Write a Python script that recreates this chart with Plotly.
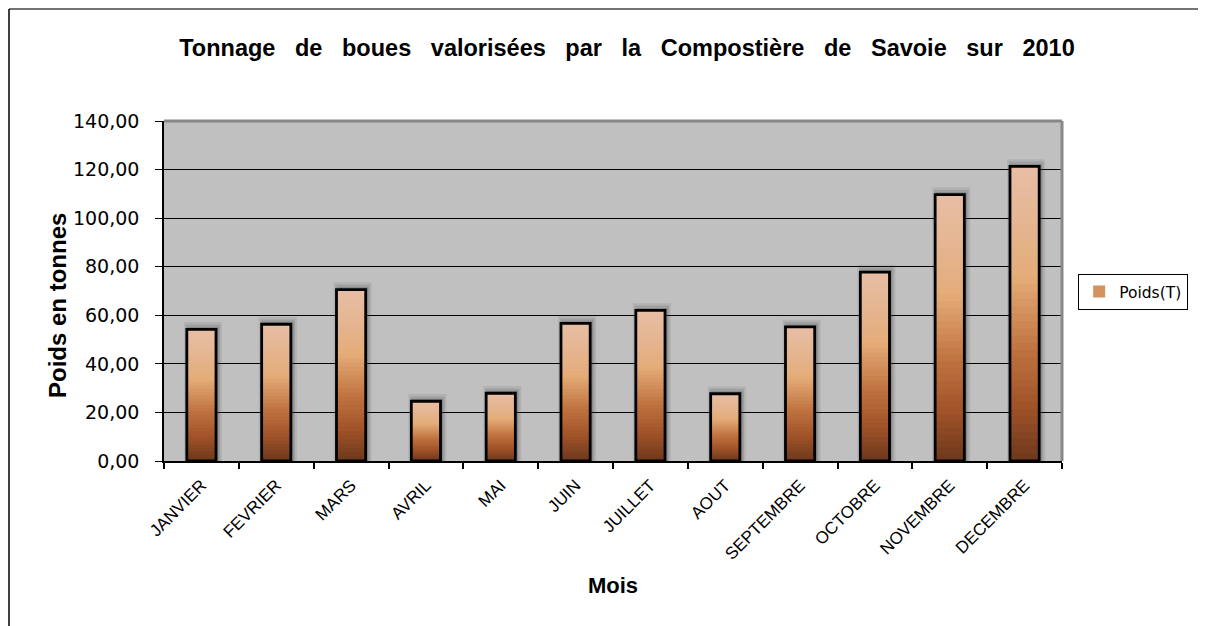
import plotly.graph_objects as go

# ---- data ----
months = ["JANVIER", "FEVRIER", "MARS", "AVRIL", "MAI", "JUIN", "JUILLET",
          "AOUT", "SEPTEMBRE", "OCTOBRE", "NOVEMBRE", "DECEMBRE"]
poids = [54.2, 56.3, 70.6, 24.6, 27.9, 56.7, 62.0, 27.7, 55.2, 77.8, 109.7, 121.3]
y_ticks = [0, 20, 40, 60, 80, 100, 120, 140]

title = "Tonnage de boues valorisées par la Compostière de Savoie sur 2010"
series_name = "Poids(T)"
x_title = "Mois"
y_title = "Poids en tonnes"

# ---- gradient helper ----
stops = [(0.0, (108, 56, 28)), (0.18, (160, 82, 40)), (0.38, (192, 115, 64)),
         (0.62, (228, 172, 120)), (0.82, (229, 182, 146)), (1.0, (231, 190, 165))]


def grad(t):
    for (t0, c0), (t1, c1) in zip(stops[:-1], stops[1:]):
        if t0 <= t <= t1:
            f = (t - t0) / (t1 - t0)
            return "rgb(%d,%d,%d)" % tuple(round(a + (b - a) * f) for a, b in zip(c0, c1))
    return "rgb(%d,%d,%d)" % stops[-1][1]


N = 40
BW = 0.39
FONT = "Liberation Sans, Arial, sans-serif"
WIDE = "DejaVu Sans, Verdana, sans-serif"

fig = go.Figure()

# soft shadows
for extra, w, op in [(3.0, BW + 0.12, 0.10), (2.0, BW + 0.07, 0.16), (1.0, BW + 0.03, 0.22)]:
    fig.add_trace(go.Bar(
        x=months, y=[v + extra for v in poids], width=w, offset=-w / 2 + 0.02,
        marker=dict(color="rgba(60,60,60,%.2f)" % op, line=dict(width=0)),
        showlegend=False, hoverinfo="skip"))

# gradient segments (slightly overlapping to avoid seams)
for k in range(N):
    h = 1.0 if k == N - 1 else 1.8
    fig.add_trace(go.Bar(
        x=months, y=[v * h / N for v in poids], base=[v * k / N for v in poids],
        width=BW, marker=dict(color=grad((k + 0.5) / N), line=dict(width=0)),
        name=series_name, showlegend=(k == N // 2), legendgroup="p",
        hoverinfo="skip"))

# outline
fig.add_trace(go.Bar(
    x=months, y=poids, width=BW,
    marker=dict(color="rgba(0,0,0,0)", line=dict(color="black", width=2.8)),
    showlegend=False, legendgroup="p"))

gap = "\u00a0\u00a0 "
title_text = gap.join(title.split(" "))

fig.update_layout(
    width=1198, height=618,
    margin=dict(l=156, r=144, t=113, b=165),
    barmode="overlay",
    paper_bgcolor="white", plot_bgcolor="#C0C0C0",
    separators=", ",
    font=dict(family=FONT, color="black"),
    title=dict(text="<b>" + title_text + "</b>", x=(627 - 8) / 1198, xanchor="center",
               y=1 - (48 - 8) / 618, yanchor="middle", font=dict(size=23.5, family=FONT)),
    legend=dict(x=1.018, xanchor="left", y=0.497, yanchor="middle",
                bordercolor="black", borderwidth=1, bgcolor="white",
                font=dict(size=15.5, family=WIDE), itemwidth=30),
    annotations=[
        dict(text="<b>" + y_title + "</b>", textangle=-90, xref="paper", yref="paper",
             x=(57 - 164) / 898, y=(461 - 306) / 340, xanchor="center", yanchor="middle",
             showarrow=False, font=dict(size=24, family=FONT)),
    ],
    shapes=[
        dict(type="line", xref="paper", yref="paper", x0=0, x1=1, y0=1, y1=1,
             line=dict(color="#888888", width=3)),
        dict(type="line", xref="paper", yref="paper", x0=1, x1=1, y0=0, y1=1,
             line=dict(color="#888888", width=3)),
        dict(type="line", xref="paper", yref="paper", x0=-155 / 898, x1=1.2,
             y0=1 + 112 / 340, y1=1 + 112 / 340, line=dict(color="#444444", width=1.5)),
        dict(type="line", xref="paper", yref="paper", x0=-155 / 898, x1=-155 / 898,
             y0=1 + 112 / 340, y1=-0.6, line=dict(color="black", width=1.5)),
    ],
)

fig.update_xaxes(
    showline=True, linecolor="black", linewidth=1.5,
    ticks="outside", tickson="boundaries", ticklen=6, tickcolor="black", tickwidth=1.5,
    tickangle=-45, tickfont=dict(size=17, family=FONT), ticklabelstandoff=6,
    title=dict(text="<b>" + x_title + "</b>", font=dict(size=22, family=FONT), standoff=15),
    showgrid=False, zeroline=False)

fig.update_yaxes(
    range=[0, 140], tickvals=y_ticks, tickformat=".2f",
    showline=True, linecolor="black", linewidth=1.5,
    ticks="outside", ticklen=7, tickcolor="black", tickwidth=1,
    tickfont=dict(size=19, family=WIDE), ticklabelstandoff=12,
    showgrid=True, gridcolor="black", gridwidth=1.2, zeroline=False)

fig.write_html("out.html")
